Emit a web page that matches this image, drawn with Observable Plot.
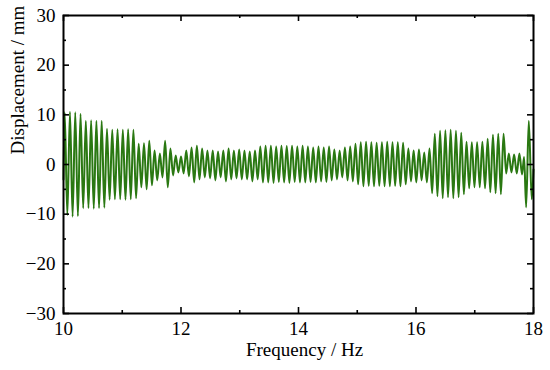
<!DOCTYPE html>
<html>
<head>
<meta charset="utf-8">
<script src="https://cdn.jsdelivr.net/npm/d3@7"></script>
<script src="https://cdn.jsdelivr.net/npm/@observablehq/plot@0.6"></script>
<style>
  html, body { margin: 0; padding: 0; background: #fff; }
</style>
</head>
<body>
<div id="chart"></div>
<script>
// Upper extremes of the oscillation (frequency in Hz, displacement in mm)
const hiFreq = [10.02,10.11,10.20,10.29,10.38,10.47,10.56,10.65,10.74,10.83,
  10.92,11.01,11.10,11.19,11.28,11.37,11.46,11.55,11.64,11.73,
  11.82,11.91,12.00,12.09,12.18,12.27,12.36,12.45,12.54,12.63,
  12.72,12.81,12.90,12.99,13.08,13.17,13.26,13.35,13.44,13.53,
  13.62,13.71,13.80,13.89,13.98,14.07,14.16,14.25,14.34,14.43,
  14.52,14.61,14.70,14.79,14.88,14.97,15.06,15.15,15.24,15.33,
  15.42,15.51,15.60,15.69,15.78,15.87,15.96,16.05,16.14,16.23,
  16.32,16.41,16.50,16.59,16.68,16.77,16.86,16.95,17.04,17.13,
  17.22,17.31,17.40,17.49,17.58,17.67,17.76,17.84,17.92,18.00];
const hiVal = [10.5,10.6,10.5,10.2,8.8,8.9,8.8,8.8,7.2,7.0,
  7.1,7.0,7.1,7.0,4.2,4.3,4.8,2.8,2.2,4.8,
  3.2,1.8,1.6,2.8,3.4,3.8,3.2,2.8,2.8,2.6,
  2.8,3.2,2.8,3.0,2.8,2.6,2.8,3.6,3.8,3.8,
  3.6,3.8,3.7,3.8,3.6,3.8,3.6,3.4,3.6,3.4,
  3.6,3.0,2.8,3.4,3.6,4.2,4.5,4.6,4.5,4.4,
  4.5,4.6,4.5,4.5,4.4,3.2,2.8,3.0,2.4,3.2,
  6.2,6.8,6.9,7.0,6.8,6.4,4.6,4.5,4.5,4.6,
  5.2,6.0,6.2,6.2,2.2,2.0,2.2,1.5,8.8,-1.0];
// Lower extremes
const loFreq = [10.00,10.065,10.155,10.245,10.335,10.425,10.515,10.605,10.695,10.785,
  10.875,10.965,11.055,11.145,11.235,11.325,11.415,11.505,11.595,11.685,
  11.775,11.865,11.955,12.045,12.135,12.225,12.315,12.405,12.495,12.585,
  12.675,12.765,12.855,12.945,13.035,13.125,13.215,13.305,13.395,13.485,
  13.575,13.665,13.755,13.845,13.935,14.025,14.115,14.205,14.295,14.385,
  14.475,14.565,14.655,14.745,14.835,14.925,15.015,15.105,15.195,15.285,
  15.375,15.465,15.555,15.645,15.735,15.825,15.915,16.005,16.095,16.185,
  16.275,16.365,16.455,16.545,16.635,16.725,16.815,16.905,16.995,17.085,
  17.175,17.265,17.355,17.445,17.535,17.625,17.715,17.805,17.875,17.97];
const loVal = [-3.0,-10.2,-10.5,-10.4,-8.8,-8.8,-8.9,-8.8,-8.7,-7.1,
  -7.0,-7.0,-7.1,-7.0,-6.8,-4.6,-5.0,-4.2,-3.2,-2.6,
  -4.6,-2.2,-1.6,-1.8,-2.4,-3.6,-3.0,-2.6,-2.8,-3.2,
  -2.6,-3.4,-3.0,-2.8,-3.0,-3.0,-3.4,-3.0,-3.6,-3.6,
  -3.7,-3.5,-3.6,-3.7,-3.5,-3.6,-3.6,-3.5,-3.6,-3.4,
  -3.5,-3.2,-3.0,-2.6,-3.2,-3.4,-4.0,-4.4,-4.3,-4.4,
  -4.3,-4.4,-4.4,-4.3,-4.4,-4.0,-3.4,-3.6,-3.2,-3.6,
  -5.8,-6.4,-6.8,-6.6,-6.8,-6.6,-6.0,-4.8,-4.6,-4.6,
  -4.8,-5.6,-5.8,-6.0,-1.8,-1.6,-1.8,-2.0,-8.6,-7.0];

const xMajor = [10, 12, 14, 16, 18];
const xMinor = [11, 13, 15, 17];
const yMajor = [-30, -20, -10, 0, 10, 20, 30];
const yMinor = [-25, -15, -5, 5, 15, 25];
const xTitle = "Frequency / Hz";
const yTitle = "Displacement / mm";

const pts = [];
for (let i = 0; i < Math.min(hiFreq.length, hiVal.length); i++) pts.push({f: hiFreq[i], d: hiVal[i]});
for (let i = 0; i < Math.min(loFreq.length, loVal.length); i++) pts.push({f: loFreq[i], d: loVal[i]});
pts.sort((a, b) => a.f - b.f);

const W = 550, H = 370;
const mL = 63, mR = 17, mT = 15, mB = 57;
const innerH = H - mT - mB, innerW = W - mL - mR;
const font = "'Liberation Serif', 'Times New Roman', serif";
const minus = v => (v < 0 ? "\u2212" + Math.abs(v) : String(v));

const chart = Plot.plot({
  width: W, height: H,
  marginLeft: mL, marginRight: mR, marginTop: mT, marginBottom: mB,
  style: {fontFamily: font, fontSize: "19px", background: "white", color: "black"},
  x: {domain: [10, 18], label: null},
  y: {domain: [-30, 30], label: null},
  marks: [
    Plot.line(pts, {x: "f", y: "d", curve: "monotone-x", stroke: "#2a7812", strokeWidth: 2}),
    Plot.frame({stroke: "black", strokeWidth: 2}),
    // inward ticks, bottom & top
    Plot.ruleX(xMajor, {x: d => d, insetTop: innerH - 6, stroke: "black", strokeWidth: 1.6}),
    Plot.ruleX(xMajor, {x: d => d, insetBottom: innerH - 6, stroke: "black", strokeWidth: 1.6}),
    Plot.ruleX(xMinor, {x: d => d, insetTop: innerH - 3, stroke: "black", strokeWidth: 1.6}),
    Plot.ruleX(xMinor, {x: d => d, insetBottom: innerH - 3, stroke: "black", strokeWidth: 1.6}),
    // inward ticks, left & right
    Plot.ruleY(yMajor, {y: d => d, insetRight: innerW - 6, stroke: "black", strokeWidth: 1.6}),
    Plot.ruleY(yMajor, {y: d => d, insetLeft: innerW - 6, stroke: "black", strokeWidth: 1.6}),
    Plot.ruleY(yMinor, {y: d => d, insetRight: innerW - 3, stroke: "black", strokeWidth: 1.6}),
    Plot.ruleY(yMinor, {y: d => d, insetLeft: innerW - 3, stroke: "black", strokeWidth: 1.6}),
    Plot.axisX({ticks: xMajor, tickSize: 0, tickPadding: 8, tickFormat: minus, label: null, fontSize: 19, fontFamily: font}),
    Plot.axisY({ticks: yMajor, tickSize: 0, tickPadding: 8, tickFormat: minus, label: null, fontSize: 19, fontFamily: font}),
    Plot.text([xTitle], {frameAnchor: "bottom", text: d => d, dy: 42, dx: 6, fontSize: 19, fontFamily: font, fill: "black"}),
    Plot.text([yTitle], {frameAnchor: "left", text: d => d, rotate: -90, dx: -46, dy: -10, fontSize: 19, fontFamily: font, fill: "black"})
  ]
});
document.getElementById("chart").append(chart);
</script>
</body>
</html>
